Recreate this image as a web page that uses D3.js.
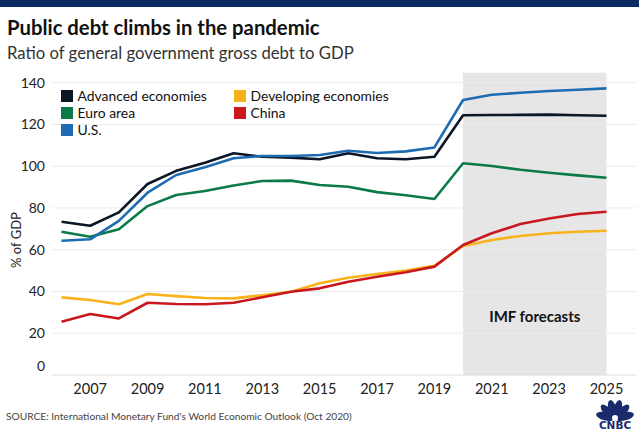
<!DOCTYPE html>
<html><head><meta charset="utf-8">
<script src="https://cdn.jsdelivr.net/npm/d3@7"></script>
<style>
html,body{margin:0;padding:0;background:#fff;}
svg{display:block;font-family:Lato,"Open Sans",sans-serif;}
</style></head>
<body>
<svg id="chart" width="639" height="432"></svg>
<script>
const years = d3.range(2006, 2026);
const advanced = [73.4,71.5,77.9,91.5,97.8,101.7,106.2,104.5,104.1,103.3,106.2,103.8,103.3,104.5,124.4,124.5,124.6,124.7,124.4,124.2];
const us = [64.3,65.0,73.8,87.3,95.8,99.5,103.8,104.9,104.9,105.4,107.4,106.3,107.1,109.0,131.7,134.2,135.2,136.0,136.6,137.3];
const euro = [68.6,66.2,69.8,80.9,86.2,88.1,90.8,92.9,93.1,91.0,90.2,87.6,86.1,84.3,101.4,100.1,98.3,96.9,95.6,94.5];
const developing = [37.2,35.9,33.9,38.8,37.8,36.9,36.7,38.2,39.9,43.9,46.6,48.4,50.0,52.3,61.8,64.7,66.6,67.9,68.6,69.1];
const china = [25.5,29.2,27.1,34.6,34.0,33.9,34.6,37.2,39.9,41.5,44.7,47.1,49.2,51.9,62.3,67.9,72.3,75.0,77.1,78.2];
const yTicks = [0,20,40,60,80,100,120,140];
const xTicks = [2007,2009,2011,2013,2015,2017,2019,2021,2023,2025];
const forecastStart = 2020, forecastEnd = 2025;

const series = [
  {name:"Advanced economies", values:advanced, color:"#0b1626"},
  {name:"Euro area", values:euro, color:"#0a7a48"},
  {name:"U.S.", values:us, color:"#1d6cb1"},
  {name:"Developing economies", values:developing, color:"#f8b31a"},
  {name:"China", values:china, color:"#c8171e"}
];

const svg = d3.select("#chart");
const x = d3.scaleLinear().domain([2006,2025]).range([61.5,606.5]);
const y = d3.scaleLinear().domain([0,140]).range([375,82.7]);

// top bar
svg.append("rect").attr("x",0).attr("y",0).attr("width",639).attr("height",7).attr("fill","#0c2b63");

// title
svg.append("text").attr("x",7).attr("y",35).attr("font-size",20.3).attr("font-weight",700).attr("fill","#111")
  .text("Public debt climbs in the pandemic");
svg.append("text").attr("x",7).attr("y",59).attr("font-size",16.7).attr("fill","#333")
  .text("Ratio of general government gross debt to GDP");

// forecast shading
svg.append("rect").attr("x",x(forecastStart)).attr("y",72.7)
  .attr("width",x(forecastEnd)-x(forecastStart)).attr("height",y(0)-72.7).attr("fill","#e6e6e6");

// gridlines
svg.append("g").selectAll("line").data(yTicks).join("line")
  .attr("x1",52).attr("x2",636).attr("y1",d=>y(d)).attr("y2",d=>y(d))
  .attr("stroke",d=>d===0?"#dcdcdc":"#ececec").attr("stroke-width",1);

// y axis labels
svg.append("g").selectAll("text").data(yTicks).join("text")
  .attr("x",45).attr("y",d=>d===0?y(d)-9:y(d)).attr("dy","0.35em").attr("text-anchor","end")
  .attr("font-size",14).attr("fill","#222").text(d=>d);

// x axis labels
svg.append("g").selectAll("text").data(xTicks).join("text")
  .attr("x",d=>x(d)).attr("y",389).attr("dy","0.35em").attr("text-anchor","middle")
  .attr("font-size",14.5).attr("fill","#222").text(d=>d);

// y title
svg.append("text").attr("transform","translate(21,240) rotate(-90)").attr("text-anchor","middle")
  .attr("font-size",13).attr("fill","#222").text("% of GDP");

// IMF forecasts label
svg.append("text").attr("x",(x(forecastStart)+x(forecastEnd))/2).attr("y",317).attr("dy","0.35em")
  .attr("text-anchor","middle").attr("font-size",15).attr("font-weight",700).attr("fill","#111")
  .text("IMF forecasts");

// lines
const line = d3.line().x((d,i)=>x(years[i])).y(d=>y(d));
const drawOrder = [series[3], series[4], series[1], series[0], series[2]];
svg.append("g").selectAll("path").data(drawOrder).join("path")
  .attr("d",d=>line(d.values)).attr("fill","none").attr("stroke",d=>d.color)
  .attr("stroke-width",2.6).attr("stroke-linejoin","round");

// legend
const legendPos = [[61,96],[61,113],[61,130],[234,96],[234,113]];
const lg = svg.append("g").selectAll("g").data(series).join("g")
  .attr("transform",(d,i)=>`translate(${legendPos[i][0]},${legendPos[i][1]})`);
lg.append("rect").attr("x",0).attr("y",-6).attr("width",12).attr("height",12).attr("fill",d=>d.color);
lg.append("text").attr("x",16.5).attr("y",0).attr("dy","0.35em").attr("font-size",13.9).attr("fill","#111").text(d=>d.name);

// source
svg.append("text").attr("x",6).attr("y",420).attr("font-size",10.2).attr("fill","#444")
  .text("SOURCE: International Monetary Fund's World Economic Outlook (Oct 2020)");

// CNBC logo
const logo = svg.append("g").attr("transform","translate(615,419)");
const feathers = [-75,-45,-15,15,45,75];
logo.selectAll("ellipse").data(feathers).join("ellipse")
  .attr("cx",0).attr("cy",-10).attr("rx",4).attr("ry",9.5)
  .attr("transform",d=>`rotate(${d} 0 0)`).attr("fill","#1a2b6d");
logo.append("circle").attr("cx",0).attr("cy",-1).attr("r",3).attr("fill","#fff");
logo.append("text").attr("x",0).attr("y",10).attr("text-anchor","middle").attr("font-size",10.5)
  .attr("font-weight",900).attr("fill","#1a2b6d").attr("font-family","'DejaVu Sans',sans-serif").text("CNBC");
</script>
</body></html>
